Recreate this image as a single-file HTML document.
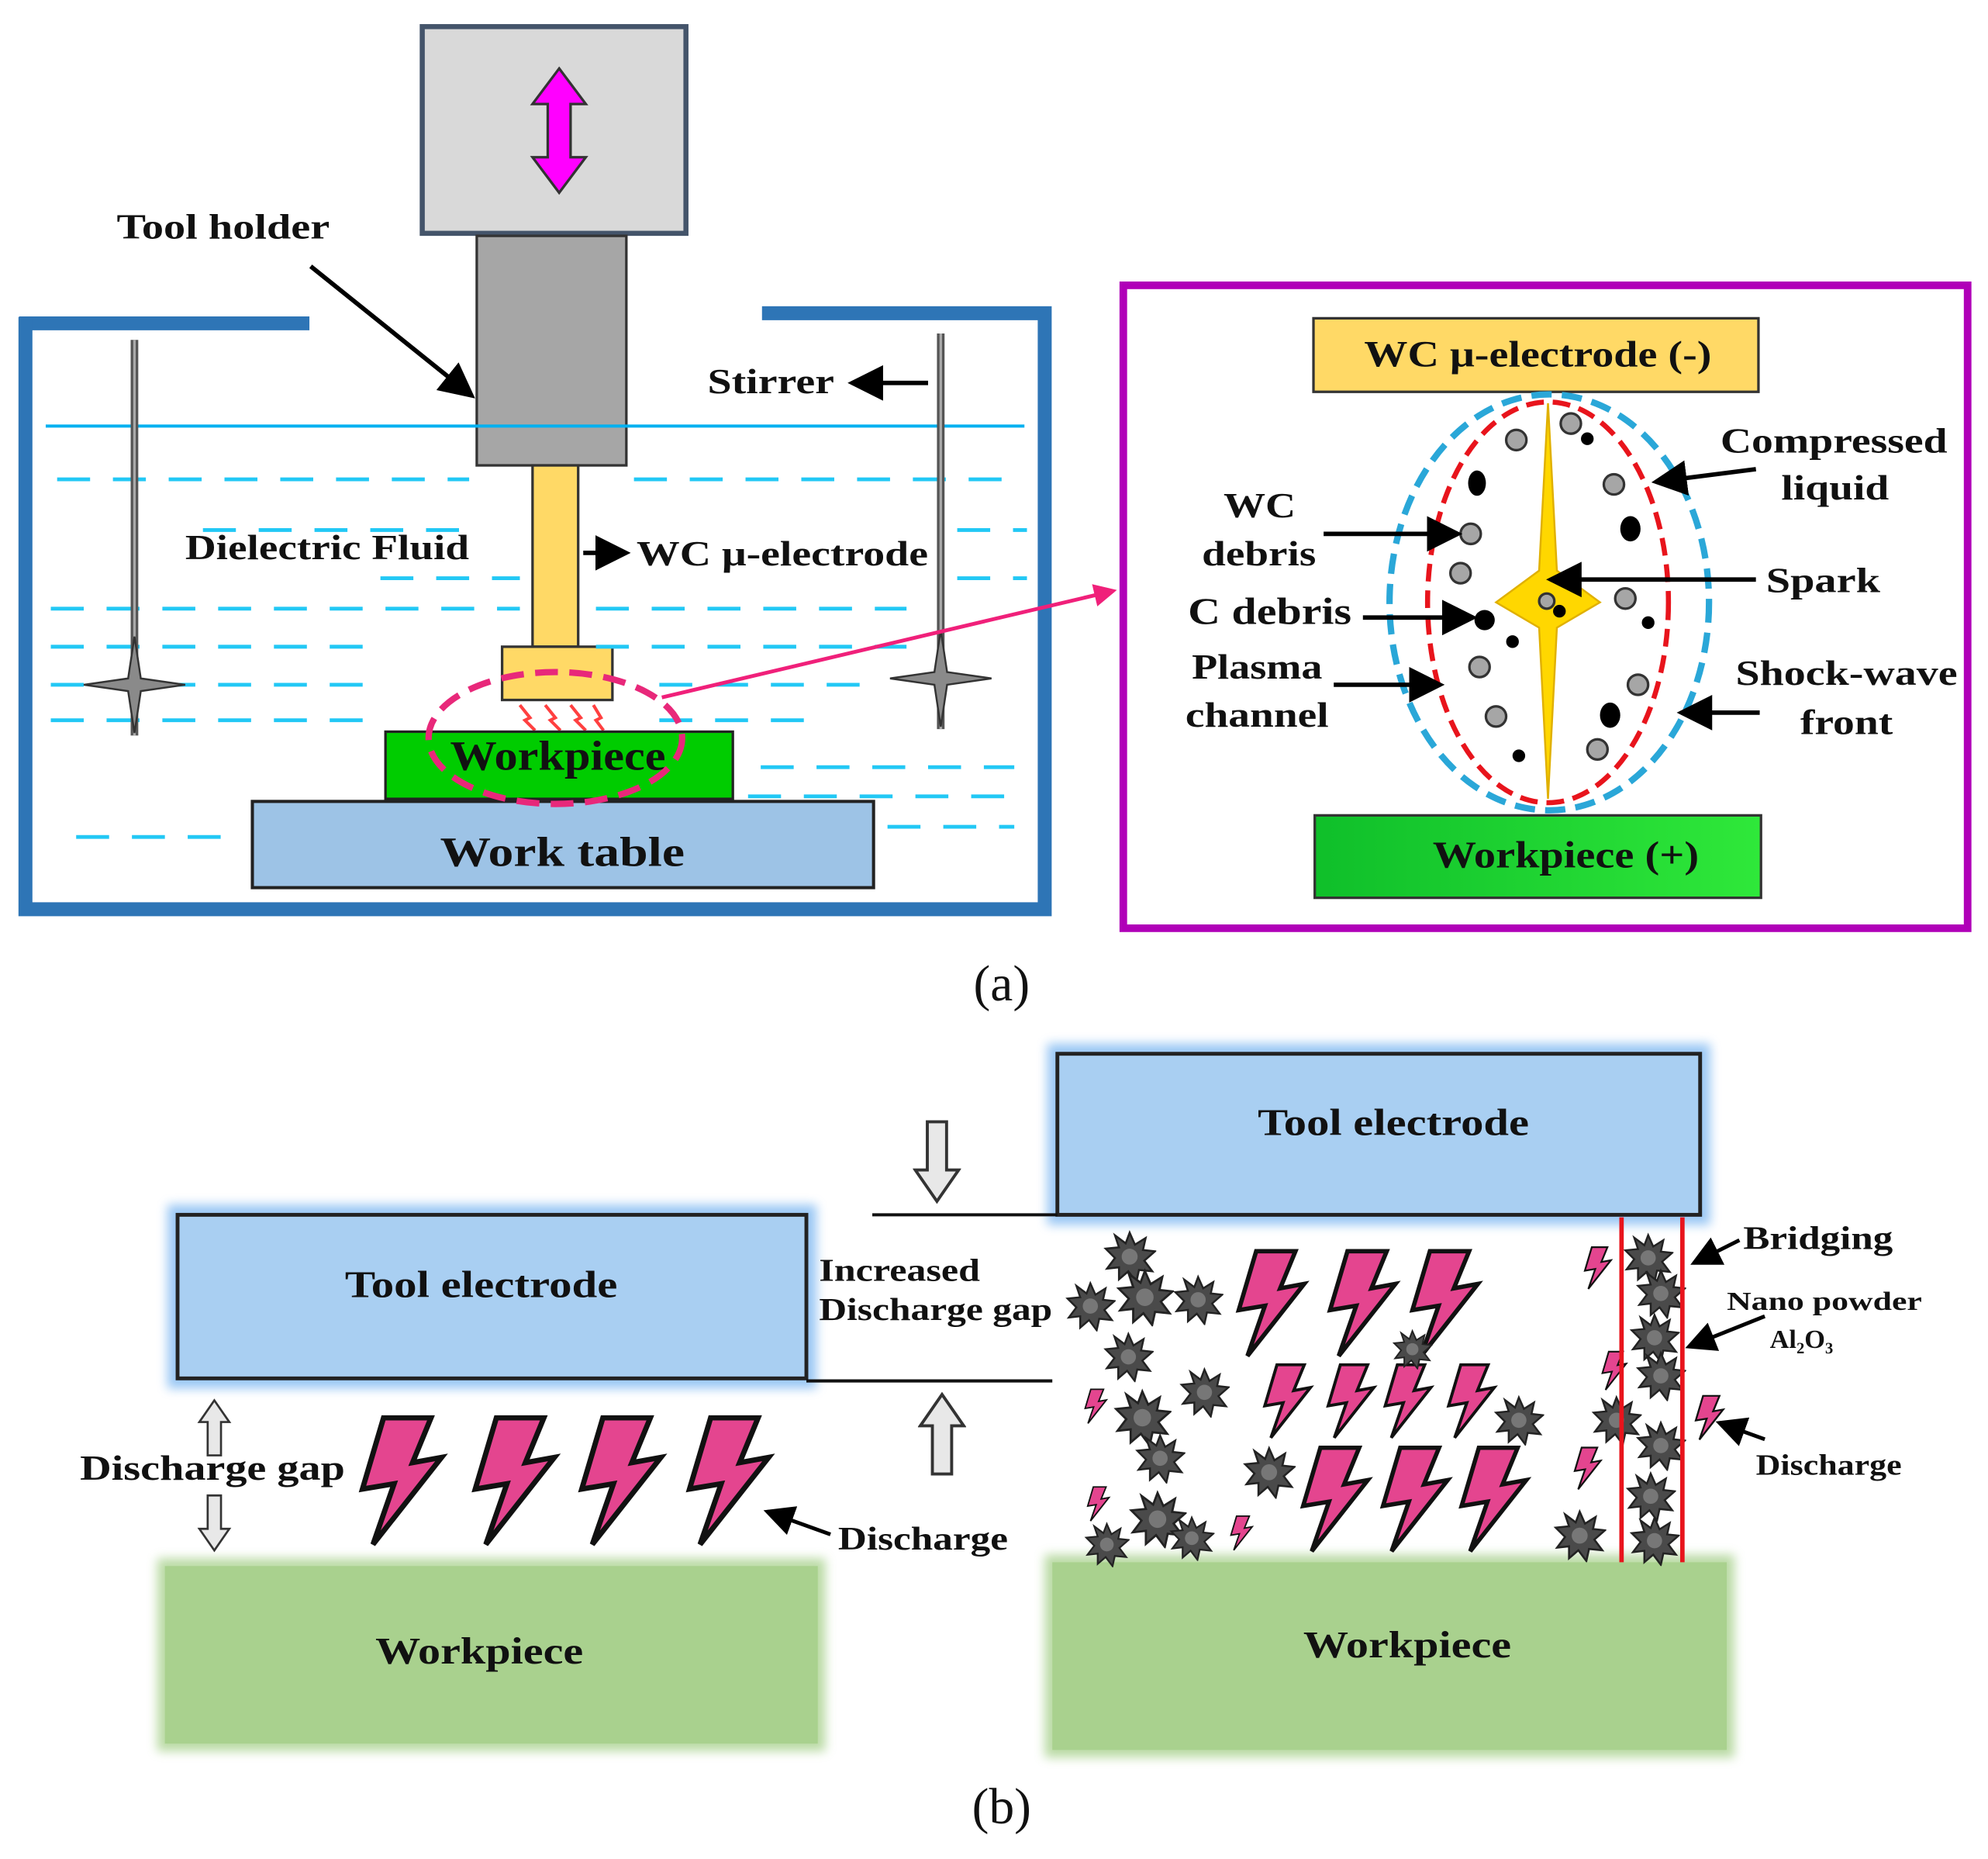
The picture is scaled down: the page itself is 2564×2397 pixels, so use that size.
<!DOCTYPE html>
<html><head><meta charset="utf-8"><style>
html,body{margin:0;padding:0;background:#fff;}
svg{display:block;}
text{font-family:"Liberation Serif",serif;font-weight:bold;fill:#111;}
</style></head><body>
<svg width="2564" height="2397" viewBox="0 0 1568 1466" xmlns="http://www.w3.org/2000/svg">
<defs>
<marker id="ah" markerWidth="8" markerHeight="8" refX="7" refY="4" orient="auto" markerUnits="strokeWidth"><path d="M0,0 L8,4 L0,8 Z" fill="#000"/></marker>
<marker id="ahp" markerWidth="6" markerHeight="6" refX="5" refY="3" orient="auto" markerUnits="strokeWidth"><path d="M0,0 L6,3 L0,6 Z" fill="#f0207a"/></marker>
<symbol id="bolt" viewBox="0 0 70 100"><path d="M22,2 L58,2 L44,36 L66,32 L14,98 L30,52 L6,56 Z" fill="#e4458f" stroke="#111" stroke-width="4" stroke-linejoin="miter"/></symbol>
<symbol id="pt" viewBox="-20 -20 40 40"><polygon points="0,-18 4,-9 12,-14 10,-5 19,-4 11,3 17,11 7,10 5,19 -1,11 -8,17 -8,8 -17,9 -11,1 -18,-6 -8,-7 -11,-16 -3,-10" fill="#4a4a4a" stroke="#222" stroke-width="1.5"/><circle cx="0" cy="0" r="6" fill="#777"/></symbol>
<symbol id="star" viewBox="-40 -40 80 80"><polygon points="0,-38 5,-5 40,0 5,5 0,38 -5,5 -40,0 -5,-5" fill="#8a8a8a" stroke="#333" stroke-width="1.5"/></symbol>
<symbol id="up" viewBox="0 0 40 70"><path d="M20,2 L38,28 L28,28 L28,68 L12,68 L12,28 L2,28 Z" fill="#e8e8e8" stroke="#333" stroke-width="2.5"/></symbol>
<filter id="glow"><feGaussianBlur stdDeviation="4"/></filter>
<linearGradient id="gw" x1="0" x2="1"><stop offset="0" stop-color="#0fbf2a"/><stop offset="1" stop-color="#2fe83a"/></linearGradient>
</defs>

<!-- (a) -->
<rect x="333" y="21" width="208" height="163" fill="#d9d9d9" stroke="#44546a" stroke-width="4"/>
<path d="M441,54 L462,82 L450,82 L450,124 L462,124 L441,152 L420,124 L432,124 L432,82 L420,82 Z" fill="#ff00ff" stroke="#333" stroke-width="2"/>
<rect x="376" y="186" width="118" height="181" fill="#a6a6a6" stroke="#333" stroke-width="2"/>
<rect x="420" y="367" width="36" height="143" fill="#ffd966" stroke="#333" stroke-width="2"/>
<rect x="396" y="510" width="87" height="42" fill="#ffd966" stroke="#333" stroke-width="2"/>
<g stroke="#ff4040" stroke-width="2.5" fill="none"><path d="M410,556 l8,10 l-4,2 l8,8"/><path d="M430,556 l8,10 l-4,2 l8,8"/><path d="M450,556 l8,10 l-4,2 l8,8"/><path d="M468,556 l6,10 l-4,2 l6,8"/></g>

<g stroke="#2e75b6" stroke-width="11" fill="none">
<path d="M15,255 L244,255"/><path d="M20,250 L20,717 L824,717 L824,247 L601,247"/>
</g>
<line x1="36" y1="336" x2="808" y2="336" stroke="#00b0f0" stroke-width="2.5"/>
<g stroke="#22c8f5" stroke-width="3" stroke-dasharray="26,18">
<line x1="45" y1="378" x2="370" y2="378"/><line x1="500" y1="378" x2="790" y2="378"/>
<line x1="160" y1="418" x2="370" y2="418"/><line x1="755" y1="418" x2="810" y2="418"/>
<line x1="300" y1="456" x2="410" y2="456"/><line x1="755" y1="456" x2="810" y2="456"/>
<line x1="40" y1="480" x2="410" y2="480"/><line x1="470" y1="480" x2="715" y2="480"/>
<line x1="40" y1="510" x2="300" y2="510"/><line x1="470" y1="510" x2="715" y2="510"/>
<line x1="40" y1="540" x2="300" y2="540"/><line x1="520" y1="540" x2="690" y2="540"/>
<line x1="40" y1="568" x2="300" y2="568"/><line x1="520" y1="568" x2="650" y2="568"/>
<line x1="600" y1="605" x2="800" y2="605"/><line x1="590" y1="628" x2="800" y2="628"/>
<line x1="60" y1="660" x2="190" y2="660"/><line x1="700" y1="652" x2="800" y2="652"/>
</g>
<line x1="106" y1="268" x2="106" y2="580" stroke="#555" stroke-width="6"/><line x1="106" y1="268" x2="106" y2="580" stroke="#aaa" stroke-width="2"/>
<use href="#star" x="64" y="500" width="84" height="80"/>
<line x1="742" y1="263" x2="742" y2="575" stroke="#555" stroke-width="6"/><line x1="742" y1="263" x2="742" y2="575" stroke="#aaa" stroke-width="2"/>
<use href="#star" x="700" y="495" width="84" height="80"/>

<rect x="304" y="577" width="274" height="53" fill="#00cc00" stroke="#222" stroke-width="2"/>
<rect x="199" y="632" width="490" height="68" fill="#9dc3e6" stroke="#222" stroke-width="2.5"/>
<text x="355" y="607" font-size="33" textLength="170" lengthAdjust="spacingAndGlyphs">Workpiece</text>
<text x="347" y="683" font-size="33" textLength="193" lengthAdjust="spacingAndGlyphs">Work table</text>
<ellipse cx="438" cy="582" rx="100" ry="52" fill="none" stroke="#e8287a" stroke-width="5" stroke-dasharray="18,9"/>
<line x1="522" y1="550" x2="878" y2="466" stroke="#f0207a" stroke-width="3" marker-end="url(#ahp)"/>

<text x="92" y="188" font-size="28" textLength="168" lengthAdjust="spacingAndGlyphs">Tool holder</text>
<line x1="245" y1="210" x2="372" y2="312" stroke="#000" stroke-width="3.5" marker-end="url(#ah)"/>
<text x="558" y="310" font-size="28" textLength="100" lengthAdjust="spacingAndGlyphs">Stirrer</text>
<line x1="732" y1="302" x2="672" y2="302" stroke="#000" stroke-width="3.5" marker-end="url(#ah)"/>
<text x="146" y="441" font-size="28" textLength="224" lengthAdjust="spacingAndGlyphs">Dielectric Fluid</text>
<line x1="460" y1="436" x2="494" y2="436" stroke="#000" stroke-width="3.5" marker-end="url(#ah)"/>
<text x="502" y="446" font-size="28" textLength="230" lengthAdjust="spacingAndGlyphs">WC μ-electrode</text>

<rect x="886" y="225" width="666" height="507" fill="none" stroke="#b000b8" stroke-width="6"/>
<rect x="1036" y="251" width="351" height="58" fill="#ffd966" stroke="#333" stroke-width="2"/>
<text x="1076" y="289" font-size="29" textLength="274" lengthAdjust="spacingAndGlyphs">WC μ-electrode (-)</text>
<rect x="1037" y="643" width="352" height="65" fill="url(#gw)" stroke="#333" stroke-width="2"/>
<text x="1130" y="684" font-size="30" textLength="210" lengthAdjust="spacingAndGlyphs">Workpiece (+)</text>
<ellipse cx="1222" cy="475" rx="126" ry="164" fill="none" stroke="#2aa7d8" stroke-width="5" stroke-dasharray="16,8"/>
<ellipse cx="1221" cy="475" rx="95" ry="158" fill="none" stroke="#e8141c" stroke-width="4" stroke-dasharray="14,7"/>
<path d="M1221,318 L1228,450 L1262,475 L1228,495 L1221,630 L1214,495 L1180,475 L1214,450 Z" fill="#ffd700" stroke="#e0b000" stroke-width="1.5"/>
<g fill="#a6a6a6" stroke="#333" stroke-width="2">
<circle cx="1196" cy="347" r="8"/><circle cx="1239" cy="334" r="8"/><circle cx="1273" cy="382" r="8"/><circle cx="1160" cy="421" r="8"/><circle cx="1152" cy="452" r="8"/><circle cx="1282" cy="472" r="8"/><circle cx="1167" cy="526" r="8"/><circle cx="1292" cy="540" r="8"/><circle cx="1180" cy="565" r="8"/><circle cx="1260" cy="591" r="8"/><circle cx="1220" cy="474" r="6"/>
</g>
<g fill="#000"><ellipse cx="1165" cy="381" rx="7" ry="10"/><circle cx="1252" cy="346" r="5"/><ellipse cx="1286" cy="417" rx="8" ry="10"/><circle cx="1171" cy="489" r="8"/><circle cx="1193" cy="506" r="5"/><circle cx="1300" cy="491" r="5"/><ellipse cx="1270" cy="564" rx="8" ry="10"/><circle cx="1198" cy="596" r="5"/><circle cx="1230" cy="482" r="5"/></g>
<text x="1357" y="357" font-size="28" textLength="179" lengthAdjust="spacingAndGlyphs">Compressed</text>
<text x="1405" y="394" font-size="28" textLength="85" lengthAdjust="spacingAndGlyphs">liquid</text>
<line x1="1385" y1="370" x2="1306" y2="380" stroke="#000" stroke-width="3.5" marker-end="url(#ah)"/>
<text x="965" y="408" font-size="28" textLength="57" lengthAdjust="spacingAndGlyphs">WC</text>
<text x="948" y="446" font-size="28" textLength="90" lengthAdjust="spacingAndGlyphs">debris</text>
<line x1="1044" y1="421" x2="1150" y2="421" stroke="#000" stroke-width="3.5" marker-end="url(#ah)"/>
<text x="1393" y="467" font-size="28" textLength="90" lengthAdjust="spacingAndGlyphs">Spark</text>
<line x1="1385" y1="457" x2="1223" y2="457" stroke="#000" stroke-width="3.5" marker-end="url(#ah)"/>
<text x="937" y="492" font-size="30" textLength="129" lengthAdjust="spacingAndGlyphs">C debris</text>
<line x1="1075" y1="487" x2="1162" y2="487" stroke="#000" stroke-width="3.5" marker-end="url(#ah)"/>
<text x="940" y="535" font-size="28" textLength="103" lengthAdjust="spacingAndGlyphs">Plasma</text>
<text x="935" y="573" font-size="28" textLength="113" lengthAdjust="spacingAndGlyphs">channel</text>
<line x1="1052" y1="540" x2="1136" y2="540" stroke="#000" stroke-width="3.5" marker-end="url(#ah)"/>
<text x="1369" y="540" font-size="28" textLength="175" lengthAdjust="spacingAndGlyphs">Shock-wave</text>
<text x="1420" y="579" font-size="28" textLength="73" lengthAdjust="spacingAndGlyphs">front</text>
<line x1="1388" y1="562" x2="1326" y2="562" stroke="#000" stroke-width="3.5" marker-end="url(#ah)"/>

<text x="790" y="789" font-size="40" text-anchor="middle" style="font-weight:normal">(a)</text>

<!-- (b) -->
<rect x="132" y="950" width="512" height="145" fill="#6fb0f0" filter="url(#glow)" opacity="0.7"/>
<rect x="140" y="958" width="496" height="129" fill="#a9cff2" stroke="#222" stroke-width="3"/>
<text x="272" y="1023" font-size="30" textLength="215" lengthAdjust="spacingAndGlyphs">Tool electrode</text>
<rect x="826" y="823" width="523" height="143" fill="#6fb0f0" filter="url(#glow)" opacity="0.7"/>
<rect x="834" y="831" width="507" height="127" fill="#a9cff2" stroke="#222" stroke-width="3"/>
<text x="992" y="895" font-size="30" textLength="214" lengthAdjust="spacingAndGlyphs">Tool electrode</text>
<rect x="124" y="1229" width="527" height="152" fill="#a9d18e" filter="url(#glow)" opacity="0.8"/>
<rect x="130" y="1235" width="515" height="140" fill="#a9d18e"/>
<text x="296" y="1312" font-size="30" textLength="164" lengthAdjust="spacingAndGlyphs">Workpiece</text>
<rect x="824" y="1226" width="544" height="160" fill="#a9d18e" filter="url(#glow)" opacity="0.8"/>
<rect x="830" y="1232" width="532" height="148" fill="#a9d18e"/>
<text x="1028" y="1307" font-size="30" textLength="164" lengthAdjust="spacingAndGlyphs">Workpiece</text>

<line x1="688" y1="958" x2="834" y2="958" stroke="#111" stroke-width="2.5"/>
<line x1="636" y1="1089" x2="830" y2="1089" stroke="#111" stroke-width="2.5"/>
<use href="#up" x="720" y="880" width="38" height="72" transform="rotate(180 739 916)"/>
<use href="#up" x="724" y="1095" width="38" height="72"/>
<use href="#up" x="154" y="1103" width="30" height="46"/>
<use href="#up" x="154" y="1178" width="30" height="46" transform="rotate(180 169 1201)"/>
<text x="646" y="1010" font-size="25" textLength="127" lengthAdjust="spacingAndGlyphs">Increased</text>
<text x="646" y="1041" font-size="25" textLength="184" lengthAdjust="spacingAndGlyphs">Discharge gap</text>
<text x="63" y="1167" font-size="28" textLength="209" lengthAdjust="spacingAndGlyphs">Discharge gap</text>
<text x="661" y="1222" font-size="26" textLength="134" lengthAdjust="spacingAndGlyphs">Discharge</text>
<line x1="655" y1="1210" x2="605" y2="1192" stroke="#000" stroke-width="3" marker-end="url(#ah)"/>

<use href="#bolt" x="277" y="1116" width="78" height="104"/>
<use href="#bolt" x="366" y="1116" width="78" height="104"/>
<use href="#bolt" x="450" y="1116" width="78" height="104"/>
<use href="#bolt" x="535" y="1116" width="78" height="104"/>

<use href="#bolt" x="968" y="985" width="68" height="86"/>
<use href="#bolt" x="1040" y="985" width="68" height="86"/>
<use href="#bolt" x="1105" y="985" width="68" height="86"/>
<use href="#bolt" x="990" y="1075" width="50" height="60"/>
<use href="#bolt" x="1040" y="1075" width="50" height="60"/>
<use href="#bolt" x="1085" y="1075" width="50" height="60"/>
<use href="#bolt" x="1135" y="1075" width="50" height="60"/>
<use href="#bolt" x="1020" y="1140" width="65" height="85"/>
<use href="#bolt" x="1083" y="1140" width="65" height="85"/>
<use href="#bolt" x="1145" y="1140" width="65" height="85"/>
<use href="#bolt" x="850" y="1095" width="28" height="28"/>
<use href="#bolt" x="852" y="1172" width="28" height="28"/>
<use href="#bolt" x="965" y="1195" width="28" height="28"/>
<use href="#bolt" x="1248" y="982" width="24" height="36"/>
<use href="#bolt" x="1262" y="1065" width="22" height="32"/>
<use href="#bolt" x="1240" y="1140" width="24" height="36"/>
<use href="#bolt" x="1334" y="1100" width="28" height="36"/>

<g>
<use href="#pt" x="870" y="970" width="42" height="42"/><use href="#pt" x="840" y="1010" width="40" height="40"/><use href="#pt" x="880" y="1000" width="46" height="46"/><use href="#pt" x="925" y="1005" width="40" height="40"/>
<use href="#pt" x="870" y="1050" width="40" height="40"/><use href="#pt" x="930" y="1078" width="40" height="40"/><use href="#pt" x="878" y="1095" width="46" height="46"/><use href="#pt" x="895" y="1130" width="40" height="40"/>
<use href="#pt" x="980" y="1140" width="42" height="42"/><use href="#pt" x="890" y="1175" width="46" height="46"/><use href="#pt" x="855" y="1200" width="36" height="36"/><use href="#pt" x="922" y="1195" width="36" height="36"/>
<use href="#pt" x="1098" y="1048" width="32" height="32"/><use href="#pt" x="1178" y="1100" width="40" height="40"/>
<use href="#pt" x="1280" y="972" width="40" height="40"/><use href="#pt" x="1290" y="1000" width="40" height="40"/><use href="#pt" x="1285" y="1035" width="40" height="40"/><use href="#pt" x="1290" y="1065" width="40" height="40"/>
<use href="#pt" x="1255" y="1100" width="40" height="40"/><use href="#pt" x="1290" y="1120" width="40" height="40"/><use href="#pt" x="1282" y="1160" width="40" height="40"/><use href="#pt" x="1285" y="1195" width="40" height="40"/><use href="#pt" x="1225" y="1190" width="42" height="42"/>
</g>
<line x1="1279" y1="960" x2="1279" y2="1232" stroke="#e8141c" stroke-width="3.5"/>
<line x1="1327" y1="960" x2="1327" y2="1232" stroke="#e8141c" stroke-width="3.5"/>
<text x="1375" y="985" font-size="26" textLength="118" lengthAdjust="spacingAndGlyphs">Bridging</text>
<line x1="1372" y1="978" x2="1336" y2="996" stroke="#000" stroke-width="3" marker-end="url(#ah)"/>
<text x="1362" y="1033" font-size="21" textLength="154" lengthAdjust="spacingAndGlyphs">Nano powder</text>
<text x="1396" y="1063" font-size="21">Al₂O₃</text>
<line x1="1392" y1="1038" x2="1332" y2="1062" stroke="#000" stroke-width="3" marker-end="url(#ah)"/>
<text x="1385" y="1163" font-size="23" textLength="115" lengthAdjust="spacingAndGlyphs">Discharge</text>
<line x1="1392" y1="1135" x2="1356" y2="1122" stroke="#000" stroke-width="3" marker-end="url(#ah)"/>

<text x="790" y="1438" font-size="40" text-anchor="middle" style="font-weight:normal">(b)</text>
</svg>
</body></html>
